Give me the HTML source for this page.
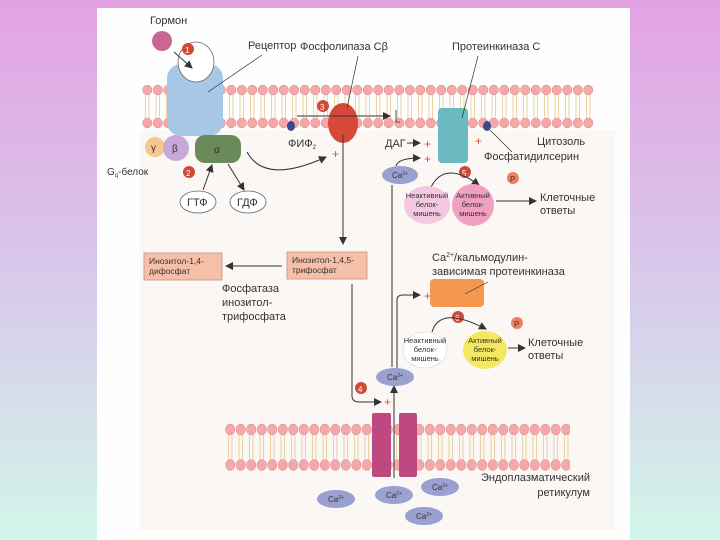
<!DOCTYPE html>
<html><head><meta charset="utf-8"><style>
html,body{margin:0;padding:0;width:720px;height:540px;overflow:hidden;background:linear-gradient(#e3a2e3,#d8c8ea 50%,#d2f6ea);}
svg{position:absolute;left:0;top:0}
text{font-family:"Liberation Sans",sans-serif;fill:#333}
</style></head><body>
<svg width="720" height="540" viewBox="0 0 720 540">
<defs>
<pattern id="m1" x="142" y="85" width="10.5" height="44" patternUnits="userSpaceOnUse">
<line x1="3.5" y1="9" x2="3.5" y2="35" stroke="#e8c890" stroke-width="0.8"/>
<line x1="7" y1="9" x2="7" y2="35" stroke="#e8c890" stroke-width="0.8"/>
<ellipse cx="5.25" cy="5" rx="4.7" ry="5" fill="#f4a8a8" stroke="#d88888" stroke-width="0.5"/>
<ellipse cx="5.25" cy="38" rx="4.7" ry="5" fill="#f4a8a8" stroke="#d88888" stroke-width="0.5"/>
</pattern>
<pattern id="m2" x="225" y="424" width="10.5" height="47" patternUnits="userSpaceOnUse">
<line x1="3.5" y1="10" x2="3.5" y2="37" stroke="#e8c890" stroke-width="0.8"/>
<line x1="7" y1="10" x2="7" y2="37" stroke="#e8c890" stroke-width="0.8"/>
<ellipse cx="5.25" cy="5.5" rx="4.7" ry="5.5" fill="#f4a8a8" stroke="#d88888" stroke-width="0.5"/>
<ellipse cx="5.25" cy="41" rx="4.7" ry="5.5" fill="#f4a8a8" stroke="#d88888" stroke-width="0.5"/>
</pattern>
<marker id="ar" markerWidth="8" markerHeight="8" refX="7" refY="4" orient="auto" markerUnits="userSpaceOnUse"><path d="M0,0 L8,4 L0,8z" fill="#333"/></marker>
</defs>
<rect x="97" y="8" width="533" height="532" fill="#fefefe"/>
<rect x="140" y="130" width="475" height="400" fill="#faf7f5"/>
<rect x="142" y="85" width="452" height="44" fill="url(#m1)"/>
<rect x="167" y="64" width="56" height="72" rx="14" fill="#a8c8e8"/>
<ellipse cx="196" cy="62" rx="18" ry="20" fill="#fff" stroke="#666" stroke-width="0.8"/>
<circle cx="162" cy="41" r="10" fill="#c86890"/>
<text x="150" y="24" font-size="11">Гормон</text>
<circle cx="188" cy="49" r="6" fill="#d04a3a"/><text x="185" y="53" font-size="8" style="fill:#fff">1</text>
<line x1="174" y1="52" x2="192" y2="68" stroke="#333" marker-end="url(#ar)"/>
<text x="248" y="49" font-size="11">Рецептор</text>
<line x1="208" y1="92" x2="262" y2="55" stroke="#333" stroke-width="0.7"/>
<circle cx="155" cy="147" r="10" fill="#f4c890"/><text x="151" y="151" font-size="10">γ</text>
<circle cx="176" cy="148" r="13" fill="#c8a8d8"/><text x="172" y="152" font-size="10">β</text>
<rect x="195" y="135" width="46" height="28" rx="10" fill="#6a8a5a"/><text x="214" y="153" font-size="10">α</text>
<text x="107" y="175" font-size="10">G<tspan font-size="6" dy="2">q</tspan><tspan dy="-2">-белок</tspan></text>
<circle cx="189" cy="172" r="6" fill="#d04a3a"/><text x="186" y="176" font-size="8" style="fill:#fff">2</text>
<ellipse cx="198" cy="202" rx="18" ry="11" fill="#fff" stroke="#666" stroke-width="0.8"/><text x="187" y="206" font-size="11">ГТФ</text>
<ellipse cx="248" cy="202" rx="18" ry="11" fill="#fff" stroke="#666" stroke-width="0.8"/><text x="237" y="206" font-size="11">ГДФ</text>
<line x1="203" y1="190" x2="212" y2="165" stroke="#333" marker-end="url(#ar)"/>
<line x1="228" y1="164" x2="244" y2="190" stroke="#333" marker-end="url(#ar)"/>
<path d="M247,152 Q265,185 326,157" fill="none" stroke="#333" marker-end="url(#ar)"/>
<text x="332" y="158" font-size="12" style="fill:#e05040">+</text>
<ellipse cx="343" cy="123" rx="15" ry="20" fill="#d84838"/>
<circle cx="323" cy="106" r="6" fill="#d04a3a"/><text x="320" y="110" font-size="8" style="fill:#fff">3</text>
<text x="300" y="50" font-size="11">Фосфолипаза Cβ</text>
<line x1="358" y1="56" x2="347" y2="108" stroke="#333" stroke-width="0.7"/>
<ellipse cx="291" cy="126" rx="4" ry="5" fill="#3a4a8a"/>
<line x1="297" y1="116" x2="390" y2="116" stroke="#333" marker-end="url(#ar)"/>
<path d="M396,110 v12 h4" fill="none" stroke="#555"/>
<text x="288" y="147" font-size="11">ФИФ<tspan font-size="6" dy="2">2</tspan></text>
<line x1="343" y1="135" x2="343" y2="244" stroke="#333" marker-end="url(#ar)"/>
<text x="385" y="147" font-size="11">ДАГ</text>
<line x1="407" y1="143" x2="420" y2="143" stroke="#333" marker-end="url(#ar)"/>
<text x="424" y="148" font-size="12" style="fill:#e05040">+</text>
<ellipse cx="400" cy="175" rx="18" ry="9" fill="#9aa0d0"/><text x="392" y="178" font-size="8">Ca<tspan font-size="5" dy="-3">2+</tspan></text>
<path d="M396,166 Q398,158 420,158" fill="none" stroke="#333" marker-end="url(#ar)"/>
<text x="424" y="163" font-size="12" style="fill:#e05040">+</text>
<rect x="438" y="108" width="30" height="55" rx="4" fill="#6abac0"/>
<text x="452" y="50" font-size="11">Протеинкиназа С</text>
<line x1="478" y1="56" x2="462" y2="118" stroke="#333" stroke-width="0.7"/>
<ellipse cx="487" cy="126" rx="4" ry="5" fill="#3a4a8a"/>
<line x1="490" y1="130" x2="512" y2="152" stroke="#333" stroke-width="0.7"/>
<text x="475" y="145" font-size="12" style="fill:#e05040">+</text>
<text x="537" y="145" font-size="11">Цитозоль</text>
<text x="484" y="160" font-size="11">Фосфатидилсерин</text>
<circle cx="465" cy="172" r="6" fill="#d04a3a"/><text x="462" y="176" font-size="8" style="fill:#fff">5</text>
<path d="M431,187 Q445,160 479,185" fill="none" stroke="#333" marker-end="url(#ar)"/>
<ellipse cx="427" cy="205" rx="23" ry="19" fill="#f4c8e0"/>
<text x="427" y="198" font-size="7.5" text-anchor="middle">Неактивный</text><text x="427" y="207" font-size="7.5" text-anchor="middle">белок-</text><text x="427" y="216" font-size="7.5" text-anchor="middle">мишень</text>
<circle cx="473" cy="205" r="21" fill="#f0a0c0"/>
<text x="473" y="198" font-size="7.5" text-anchor="middle">Активный</text><text x="473" y="207" font-size="7.5" text-anchor="middle">белок-</text><text x="473" y="216" font-size="7.5" text-anchor="middle">мишень</text>
<circle cx="513" cy="178" r="6" fill="#f08060"/><text x="510" y="182" font-size="8">P</text>
<line x1="496" y1="201" x2="536" y2="201" stroke="#333" marker-end="url(#ar)"/>
<text x="540" y="201" font-size="11">Клеточные</text><text x="540" y="214" font-size="11">ответы</text>
<rect x="287" y="252" width="80" height="27" fill="#f6c0a8" stroke="#c89080" stroke-width="0.8"/>
<text x="292" y="263" font-size="8.5">Инозитол-1,4,5-</text><text x="292" y="273" font-size="8.5">трифосфат</text>
<rect x="144" y="253" width="78" height="27" fill="#f6c0a8" stroke="#c89080" stroke-width="0.8"/>
<text x="149" y="264" font-size="8.5">Инозитол-1,4-</text><text x="149" y="274" font-size="8.5">дифосфат</text>
<line x1="282" y1="266" x2="226" y2="266" stroke="#333" marker-end="url(#ar)"/>
<text x="222" y="292" font-size="11">Фосфатаза</text><text x="222" y="306" font-size="11">инозитол-</text><text x="222" y="320" font-size="11">трифосфата</text>
<path d="M352,284 V396 Q352,402 360,402 H381" fill="none" stroke="#333" marker-end="url(#ar)"/>
<text x="384" y="406" font-size="12" style="fill:#e05040">+</text>
<circle cx="361" cy="388" r="6" fill="#d04a3a"/><text x="358" y="392" font-size="8" style="fill:#fff">4</text>
<line x1="392" y1="185" x2="392" y2="367" stroke="#333"/>
<line x1="394" y1="478" x2="394" y2="386" stroke="#333" marker-end="url(#ar)"/>
<path d="M397,368 V300 Q397,295 403,295 H420" fill="none" stroke="#333" marker-end="url(#ar)"/>
<text x="424" y="300" font-size="12" style="fill:#e05040">+</text>
<ellipse cx="395" cy="377" rx="19" ry="9" fill="#9aa0d0"/><text x="387" y="380" font-size="8">Ca<tspan font-size="5" dy="-3">2+</tspan></text>
<text x="432" y="261" font-size="11">Ca<tspan font-size="7" dy="-4">2+</tspan><tspan dy="4">/кальмодулин-</tspan></text>
<text x="432" y="275" font-size="11">зависимая протеинкиназа</text>
<rect x="430" y="279" width="54" height="28" rx="4" fill="#f49850"/>
<line x1="465" y1="294" x2="488" y2="282" stroke="#333" stroke-width="0.7"/>
<circle cx="458" cy="317" r="6" fill="#d04a3a"/><text x="455" y="321" font-size="8" style="fill:#fff">6</text>
<path d="M432,332 Q440,305 486,329" fill="none" stroke="#333" marker-end="url(#ar)"/>
<ellipse cx="425" cy="350" rx="22" ry="18" fill="#fff" stroke="#ddd" stroke-width="0.8"/>
<text x="425" y="343" font-size="7.5" text-anchor="middle">Неактивный</text><text x="425" y="352" font-size="7.5" text-anchor="middle">белок-</text><text x="425" y="361" font-size="7.5" text-anchor="middle">мишень</text>
<ellipse cx="485" cy="350" rx="22" ry="19" fill="#f4e860"/>
<text x="485" y="343" font-size="7.5" text-anchor="middle">Активный</text><text x="485" y="352" font-size="7.5" text-anchor="middle">белок-</text><text x="485" y="361" font-size="7.5" text-anchor="middle">мишень</text>
<circle cx="517" cy="323" r="6" fill="#f08060"/><text x="514" y="327" font-size="8">P</text>
<line x1="508" y1="348" x2="525" y2="348" stroke="#333" marker-end="url(#ar)"/>
<text x="528" y="346" font-size="11">Клеточные</text><text x="528" y="359" font-size="11">ответы</text>
<rect x="225" y="424" width="345" height="47" fill="url(#m2)"/>
<rect x="372" y="413" width="19" height="64" rx="2" fill="#c04880"/>
<rect x="399" y="413" width="18" height="64" rx="2" fill="#c04880"/>
<line x1="394" y1="478" x2="394" y2="420" stroke="#333"/>
<text x="590" y="481" font-size="11" text-anchor="end">Эндоплазматический</text>
<text x="590" y="496" font-size="11" text-anchor="end">ретикулум</text>
<ellipse cx="336" cy="499" rx="19" ry="9" fill="#9aa0d0"/><text x="328" y="502" font-size="8">Ca<tspan font-size="5" dy="-3">2+</tspan></text>
<ellipse cx="394" cy="495" rx="19" ry="9" fill="#9aa0d0"/><text x="386" y="498" font-size="8">Ca<tspan font-size="5" dy="-3">2+</tspan></text>
<ellipse cx="440" cy="487" rx="19" ry="9" fill="#9aa0d0"/><text x="432" y="490" font-size="8">Ca<tspan font-size="5" dy="-3">2+</tspan></text>
<ellipse cx="424" cy="516" rx="19" ry="9" fill="#9aa0d0"/><text x="416" y="519" font-size="8">Ca<tspan font-size="5" dy="-3">2+</tspan></text>
</svg>
</body></html>
